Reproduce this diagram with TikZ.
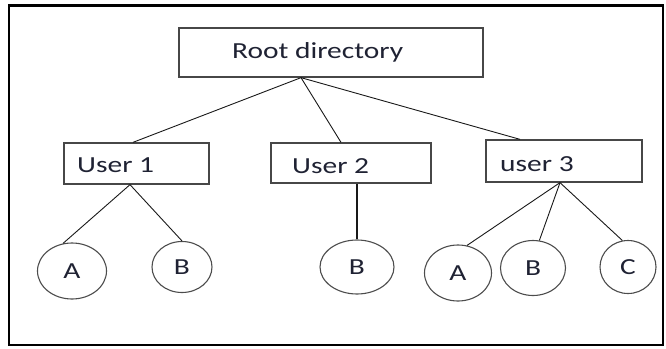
\documentclass[tikz,border=0pt]{standalone}
\usepackage{fontspec}
\setmainfont{Carlito}[FakeStretch=1.28]
\usetikzlibrary{shapes.geometric}
\definecolor{txt}{HTML}{1F2233}
\begin{document}
\begin{tikzpicture}[x=1pt,y=-1pt,
  boxnode/.style={draw=black!72, line width=1.3pt, rectangle, inner sep=0pt},
  leaf/.style={draw=black!70, line width=1.1pt, ellipse, inner sep=0pt, text=txt,
    font=\fontsize{23}{27}\selectfont},
  lbl/.style={anchor=base west, inner sep=0pt, text=txt, font=\fontsize{23}{27}\selectfont},
  edge/.style={draw=black!90, line width=0.9pt}]
\useasboundingbox (0,0) rectangle (666,348);
\draw[line width=2.8pt] (9,5.5) rectangle (663,345);
% boxes
\node[boxnode, minimum width=304pt, minimum height=49pt] (root) at (331,52.5) {};
\node[boxnode, minimum width=145pt, minimum height=41pt] (u1) at (136.5,163.5) {};
\node[boxnode, minimum width=160pt, minimum height=40pt] (u2) at (351,163) {};
\node[boxnode, minimum width=156pt, minimum height=42pt] (u3) at (564,161) {};
% labels
\node[lbl] (troot) at (232,58) {Root directory};
\node[lbl] (tu1) at (77,172) {User 1};
\node[lbl] (tu2) at (292,173) {User 2};
\node[lbl] (tu3) at (500,171) {user 3};
% leaves
\node[leaf, minimum width=69pt, minimum height=56pt] (a1) at (72,271) {A};
\node[leaf, minimum width=60pt, minimum height=51pt] (b1) at (182,267) {B};
\node[leaf, minimum width=74pt, minimum height=54pt] (b2) at (357,267) {B};
\node[leaf, minimum width=67pt, minimum height=56pt] (a3) at (458,273) {A};
\node[leaf, minimum width=65pt, minimum height=55pt] (b3) at (533,268) {B};
\node[leaf, minimum width=56pt, minimum height=53pt] (c3) at (628,267) {C};
% connectors
\draw[edge] ([xshift=-30pt]root.south) -- ([xshift=-3.5pt]u1.north);
\draw[edge] ([xshift=-30pt]root.south) -- ([xshift=-10pt]u2.north);
\draw[edge] ([xshift=-30pt]root.south) -- ([xshift=-44pt]u3.north);
\draw[edge] ([xshift=-6.5pt]u1.south) -- (a1.108);
\draw[edge] ([xshift=-6.5pt]u1.south) -- (b1.north);
\draw[edge, line width=2pt] ([xshift=6pt]u2.south) -- (b2.north);
\draw[edge] ([xshift=-4pt]u3.south) -- (a3.72);
\draw[edge] ([xshift=-4pt]u3.south) -- (b3.77);
\draw[edge] ([xshift=-4pt]u3.south) -- (c3.102);
\end{tikzpicture}
\end{document}
